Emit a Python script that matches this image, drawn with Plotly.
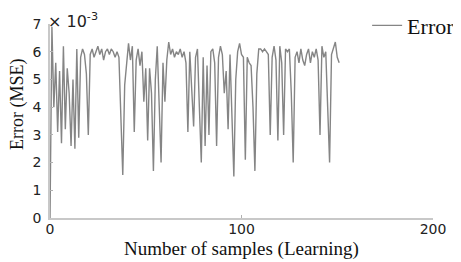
import plotly.graph_objects as go

# Error (MSE) values, in units of 1e-3, one per learning sample
error_e3 = [
    0.0, 6.9, 4.0, 5.6, 3.1, 5.3, 2.7, 6.2, 3.2, 5.4,
    4.5, 2.6, 5.0, 2.5, 6.1, 2.9, 5.8, 6.1, 5.9, 5.2,
    3.0, 5.9, 6.1, 5.8, 6.0, 6.2, 5.9, 6.1, 5.7, 6.0,
    6.1, 5.9, 6.1, 6.0, 5.8, 6.0, 5.8, 3.6, 1.55, 4.8,
    5.7, 6.3, 5.7, 6.2, 3.1, 5.7, 6.1, 5.5, 6.0, 4.2,
    5.4, 2.8, 5.4, 4.5, 1.7, 5.0, 6.2, 4.0, 2.0, 5.6,
    4.2, 5.7, 6.35, 5.9, 6.1, 5.8, 6.0, 5.9, 6.1, 5.8,
    6.0, 5.6, 3.1, 6.0, 4.5, 3.3, 5.8, 6.1, 4.0, 2.0,
    5.8, 2.6, 5.5, 3.0, 6.0, 6.1, 5.6, 2.6, 5.8, 6.2,
    5.9, 4.5, 5.3, 3.2, 5.9, 4.0, 1.5, 5.0, 6.0, 6.3,
    5.9, 5.8, 2.1, 5.8, 5.6, 5.5, 4.0, 1.7, 5.2, 6.1,
    6.1, 6.0, 6.1, 6.0, 5.9, 3.0, 5.8, 6.2, 5.7, 2.8,
    6.2, 5.6, 3.0, 6.1, 6.0, 6.1, 4.5, 2.0, 5.8, 6.0,
    5.6, 6.1, 5.7, 5.5, 5.9, 6.1, 5.6, 6.0, 5.8, 6.1,
    5.7, 3.0, 6.2, 5.8, 6.0, 4.0, 2.0, 5.9, 6.1, 6.35,
    5.8, 5.6,
]
samples = list(range(len(error_e3)))

x_ticks = [0, 100, 200]
y_ticks = [0, 1, 2, 3, 4, 5, 6, 7]

x_title = "Number of samples (Learning)"
y_title = "Error (MSE)"
scale_label = "× 10<sup>-3</sup>"
series_name = "Error"

serif = "Liberation Serif, Times New Roman, serif"
sans = "DejaVu Sans, Arial, sans-serif"

fig = go.Figure()
fig.add_trace(go.Scatter(
    x=samples, y=error_e3, mode="lines", name=series_name,
    line=dict(color="#858585", width=1.4),
))

axis_common = dict(
    showgrid=False, zeroline=False, showline=True, linecolor="#c8c8c8",
    linewidth=1.5, ticks="inside", ticklen=3, tickcolor="#b0b0b0",
    tickfont=dict(family=sans, size=14, color="#222"),
)
fig.update_xaxes(range=[0, 200], tickvals=x_ticks, ticklabelstandoff=-3, **axis_common)
fig.update_yaxes(range=[0, 7], tickvals=y_ticks, ticklabelstandoff=4, **axis_common)

fig.add_annotation(xref="paper", yref="paper", x=0.5, y=0, yshift=-31,
                   xanchor="center", yanchor="middle",
                   text=x_title, showarrow=False,
                   font=dict(family=serif, size=19, color="#111"))
fig.add_annotation(xref="paper", yref="paper", x=0, y=0.582, xshift=-33,
                   xanchor="center", yanchor="middle",
                   text=y_title, textangle=-90, showarrow=False,
                   font=dict(family=serif, size=18, color="#111"))
fig.add_annotation(xref="paper", yref="paper", x=0, y=1, xanchor="left",
                   yanchor="top", xshift=-4, yshift=16, text=scale_label,
                   showarrow=False,
                   font=dict(family=sans, size=16, color="#222"))

# page body has an 8px margin, so the figure is drawn 8px in from the window edge
fig.update_layout(
    width=453, height=254,
    margin=dict(l=42, r=28, t=16, b=44, autoexpand=False),
    paper_bgcolor="white", plot_bgcolor="white",
    showlegend=True,
    legend=dict(x=0.828, y=1.10, xanchor="left", yanchor="top",
                bgcolor="rgba(0,0,0,0)", itemwidth=30,
                font=dict(family=serif, size=22, color="#111")),
)

fig.write_html("out.html")
